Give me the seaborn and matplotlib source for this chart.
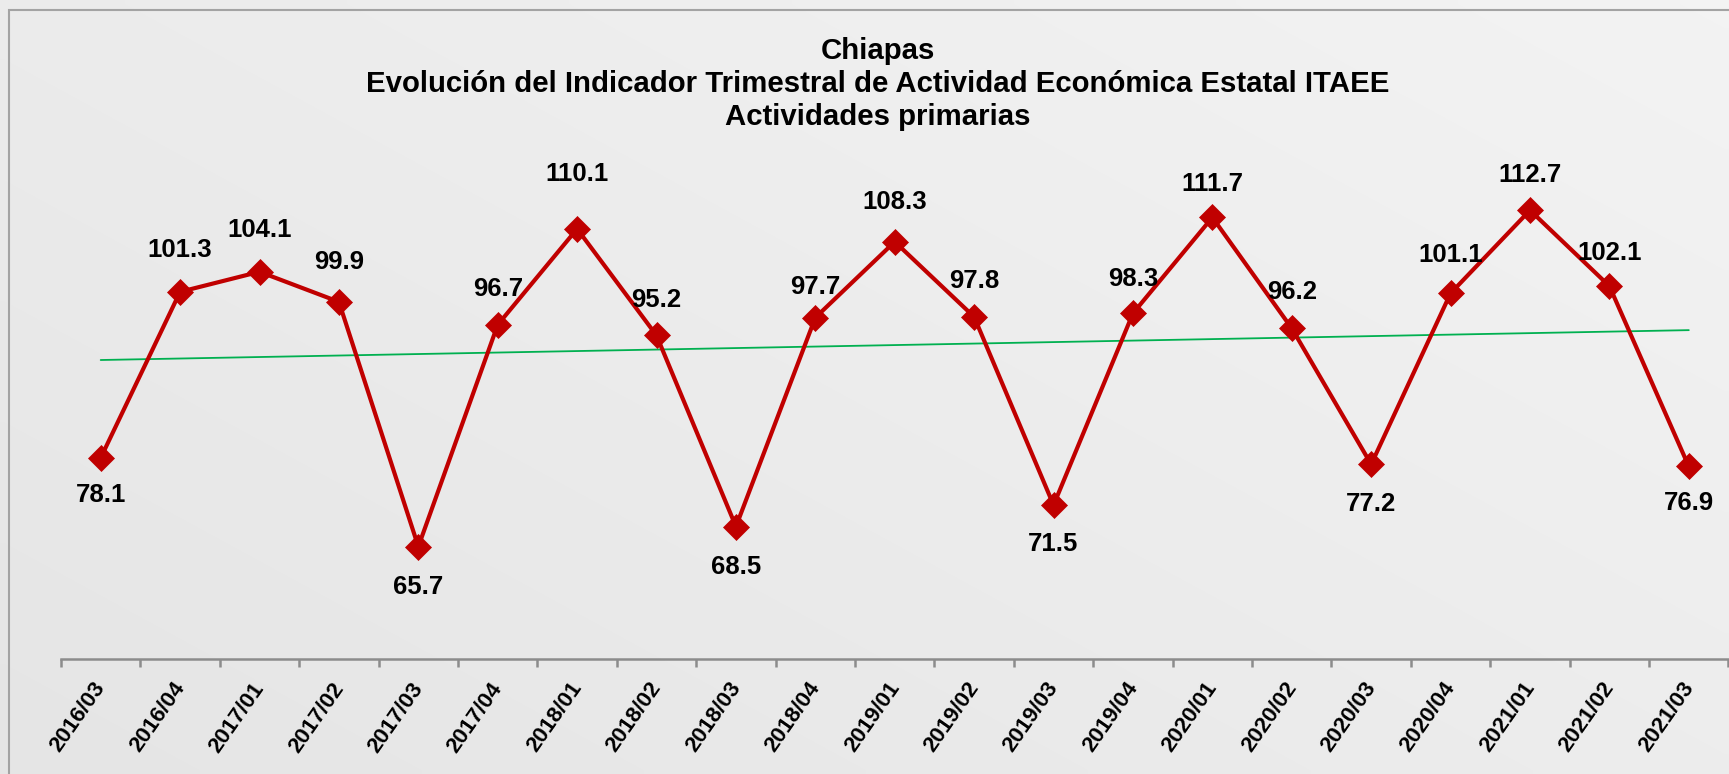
import numpy as np
import pandas as pd
import matplotlib
matplotlib.use("Agg")
import matplotlib.pyplot as plt
from matplotlib.patches import Rectangle
from matplotlib.transforms import ScaledTranslation
import seaborn as sns

# ---- data ----
periods = ["2016/03", "2016/04", "2017/01", "2017/02", "2017/03", "2017/04",
           "2018/01", "2018/02", "2018/03", "2018/04", "2019/01", "2019/02",
           "2019/03", "2019/04", "2020/01", "2020/02", "2020/03", "2020/04",
           "2021/01", "2021/02", "2021/03"]
itaee = [78.1, 101.3, 104.1, 99.9, 65.7, 96.7, 110.1, 95.2, 68.5, 97.7, 108.3,
         97.8, 71.5, 98.3, 111.7, 96.2, 77.2, 101.1, 112.7, 102.1, 76.9]
title_lines = ["Chiapas",
               "Evolución del Indicador Trimestral de Actividad Económica Estatal ITAEE",
               "Actividades primarias"]

# ---- styling ----
label_dy_px = [37, -42, -42, -40, 40, -36, -55, -35, 40, -31, -40, -36, 39, -34,
               -33, -36, 40, -38, -35, -33, 37]
RED = "#C00000"
GREEN = "#00B050"
W, H = 1729, 774

sns.set_theme(style="white")
plt.rcParams["font.family"] = ["Liberation Sans", "DejaVu Sans"]
plt.rcParams["text.color"] = "black"
plt.rcParams["xtick.color"] = "black"

df = pd.DataFrame({"idx": np.arange(len(periods)), "periodo": periods, "valor": itaee})

fig = plt.figure(figsize=(W / 100, H / 100), dpi=100)

# background (light gray with soft gradient)
bg = fig.add_axes([0, 0, 1, 1], zorder=-10)
gx, gy = np.meshgrid(np.linspace(0, 1, 200), np.linspace(0, 1, 100))
grad = 0.895 + 0.055 * (0.55 * gx + 0.45 * gy)
bg.imshow(grad, extent=[0, 1, 0, 1], origin="lower", aspect="auto",
          cmap="gray", vmin=0, vmax=1, interpolation="bilinear")
bg.add_patch(Rectangle((9 / W, -0.1), 1.2, 1.1 - 10 / H, fill=False,
                       edgecolor="#a3a3a3", linewidth=1.5))
bg.set_xlim(0, 1)
bg.set_ylim(0, 1)
bg.axis("off")

# main axes
left, right = 61 / W, 1728.5 / W
bottom, top = 1 - 659 / H, 1 - 158 / H
ax = fig.add_axes([left, bottom, right - left, top - bottom])
ax.patch.set_alpha(0)

# trend line
sns.regplot(data=df, x="idx", y="valor", scatter=False, ci=None, ax=ax,
            color=GREEN, line_kws={"linewidth": 1.3}, truncate=True)

# main series
sns.lineplot(data=df, x="idx", y="valor", ax=ax, color=RED, linewidth=3.0,
             marker="D", markersize=13.5, markeredgecolor=RED,
             markeredgewidth=0.5, zorder=3)

for i, v in enumerate(itaee):
    ax.annotate(f"{v:.1f}", (i, v), xytext=(0, -label_dy_px[i] * 0.72),
                textcoords="offset points", ha="center", va="center",
                fontsize=18.5, fontweight="bold", color="black", zorder=4)

ax.set_xlim(-0.5, len(periods) - 0.5)
ax.set_ylim(50, 120)
ax.set_xlabel("")
ax.set_ylabel("")
ax.set_yticks([])

ax.set_xticks(np.arange(len(periods)))
ax.set_xticklabels(periods, rotation=55, ha="right", rotation_mode="anchor",
                   fontsize=16, fontweight="bold", color="black")
ax.set_xticks(np.arange(len(periods) + 1) - 0.5, minor=True)
ax.tick_params(axis="x", which="major", length=0, pad=14)
ax.tick_params(axis="x", which="minor", length=6, width=1.8, color="#8c8c8c",
               direction="out", bottom=True)
shift = ScaledTranslation(-8 / 100, 0, fig.dpi_scale_trans)
for lbl in ax.get_xticklabels():
    lbl.set_transform(lbl.get_transform() + shift)

for s in ["left", "right", "top"]:
    ax.spines[s].set_visible(False)
ax.spines["bottom"].set_color("#8c8c8c")
ax.spines["bottom"].set_linewidth(1.8)

title_y_px = [51, 84, 117]
for txt, ypx in zip(title_lines, title_y_px):
    fig.text(878 / W, 1 - ypx / H, txt, ha="center", va="center",
             fontsize=21.2, fontweight="bold", color="black")

fig.savefig("out.png", dpi=100)
